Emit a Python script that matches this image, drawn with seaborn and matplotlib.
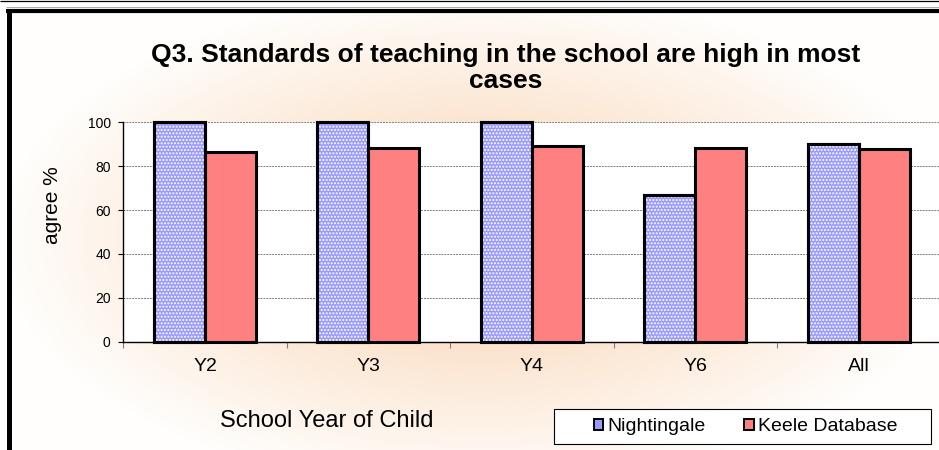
import numpy as np
import pandas as pd
import matplotlib
matplotlib.use("Agg")
import matplotlib.pyplot as plt
import seaborn as sns
from matplotlib.patches import Rectangle, Patch

# ---------------- data ----------------
categories = ["Y2", "Y3", "Y4", "Y6", "All"]
series_names = ["Nightingale", "Keele Database"]
nightingale = [100, 100, 100, 66.7, 90]
keele = [86.3, 88.5, 89.3, 88.2, 87.8]
y_ticks = [0, 20, 40, 60, 80, 100]
title_text = "Q3. Standards of teaching in the school are high in most\ncases"
ylabel_text = "agree %"
xlabel_text = "School Year of Child"
colors = ["#9999FF", "#FF8080"]

df = pd.DataFrame({
    "year": categories * 2,
    "series": [series_names[0]] * len(categories) + [series_names[1]] * len(categories),
    "value": nightingale + keele,
})

sns.set_theme(style="white")
plt.rcParams["font.family"] = ["Liberation Sans", "DejaVu Sans"]
plt.rcParams["text.color"] = "black"
plt.rcParams["axes.labelcolor"] = "black"
plt.rcParams["xtick.color"] = "black"
plt.rcParams["ytick.color"] = "black"
plt.rcParams["hatch.linewidth"] = 1.0

W, H = 939, 450
fig = plt.figure(figsize=(W / 100, H / 100), dpi=100)
fig.patch.set_facecolor("white")

# ---------------- background (gradient + frame) ----------------
bg = fig.add_axes([0, 0, 1, 1], zorder=-10)
xs = np.arange(10, W) + 0.5
ys = np.arange(12, H) + 0.5
X, Y = np.meshgrid(xs, ys)
t = np.sqrt(((X - 480) / 480.0) ** 2 + ((Y - 240) / 250.0) ** 2)
k = np.clip(1 - t, 0, 1)[..., None]
white = np.array([255, 254, 252]) / 255.0
peach = np.array([249, 208, 172]) / 255.0
img = white + (peach - white) * k
bg.imshow(img, extent=(10, W, H, 12), aspect="auto", interpolation="bilinear", zorder=0)
bg.set_xlim(0, W)
bg.set_ylim(H, 0)
bg.axis("off")
bg.plot([0, W], [0.5, 0.5], color="black", lw=0.9, solid_capstyle="butt", zorder=3)
bg.plot([6, W], [6.5, 6.5], color="#aaaaaa", lw=0.7, solid_capstyle="butt", zorder=3)
bg.plot([6, W], [11, 11], color="black", lw=3.0, solid_capstyle="butt", zorder=3)
bg.plot([8.5, 8.5], [9, H], color="black", lw=3.6, solid_capstyle="butt", zorder=3)
bg.add_patch(Rectangle((554, 409), 377, 35, facecolor="white", edgecolor="black", lw=0.8, zorder=3))

# ---------------- main axes ----------------
ax = fig.add_axes([123.3 / W, 108.3 / H, 817 / W, 219.4 / H])
ax.set_facecolor("white")
sns.barplot(data=df, x="year", y="value", hue="series", palette=colors,
            width=0.625, gap=0, edgecolor="black", linewidth=2.2,
            saturation=1, legend=False, ax=ax, errorbar=None)
ax.set_xlim(-0.5, len(categories) - 0.5)
ax.set_ylim(0, 100)
ax.set_yticks(y_ticks)
ax.set_xlabel("")
ax.set_ylabel("")

for cont in ax.containers:
    for bar in cont:
        bar.set_clip_on(False)

# dotted fill for Nightingale bars
for bar in ax.containers[0]:
    x0, y0 = bar.get_xy()
    w, h = bar.get_width(), bar.get_height()
    ax.add_patch(Rectangle((x0, y0), w, h, facecolor="none", edgecolor="white",
                           hatch=".....", lw=0, zorder=bar.get_zorder() + 0.1))
    ax.add_patch(Rectangle((x0, y0), w, h, fill=False, edgecolor="black",
                           lw=2.2, zorder=bar.get_zorder() + 0.2, clip_on=False))

ax.yaxis.grid(True, color="#808080", linestyle=(0, (2, 1)), linewidth=0.7)
ax.xaxis.grid(False)
ax.set_axisbelow(True)
for s in ["top", "right"]:
    ax.spines[s].set_visible(False)
for s in ["left", "bottom"]:
    ax.spines[s].set_color("black")
    ax.spines[s].set_linewidth(1.0)

ax.tick_params(axis="y", which="major", left=True, length=3.6, width=0.8,
               color="black", direction="out", labelsize=10, pad=5.5, labelcolor="black")
ax.tick_params(axis="x", which="major", bottom=True, length=0, labelsize=14,
               pad=12, labelcolor="black")
ax.set_xticks(np.arange(-0.5, len(categories), 1), minor=True)
ax.tick_params(axis="x", which="minor", bottom=True, length=4.5, width=0.8,
               color="#808080", direction="out")

# ---------------- texts ----------------
fig.text(506 / W, 1 - 68 / H, title_text, ha="center", va="center", color="black",
         fontsize=19, fontweight="bold", linespacing=1.1, multialignment="center")
fig.text(52 / W, 1 - 205 / H, ylabel_text, rotation=90, ha="center", va="center",
         fontsize=15, color="black")
fig.text(327 / W, 1 - 421 / H, xlabel_text, ha="center", va="center",
         fontsize=17, color="black")

handles = [Patch(facecolor=c, edgecolor="black", lw=1.4) for c in colors]
fig.legend(handles, series_names, loc="center", bbox_to_anchor=(745.5 / W, 1 - 426.7 / H),
           ncol=2, frameon=False, fontsize=14, handlelength=0.5, handleheight=0.5,
           handletextpad=0.2, columnspacing=2.0, labelcolor="black")

fig.savefig("out.png", dpi=100)
